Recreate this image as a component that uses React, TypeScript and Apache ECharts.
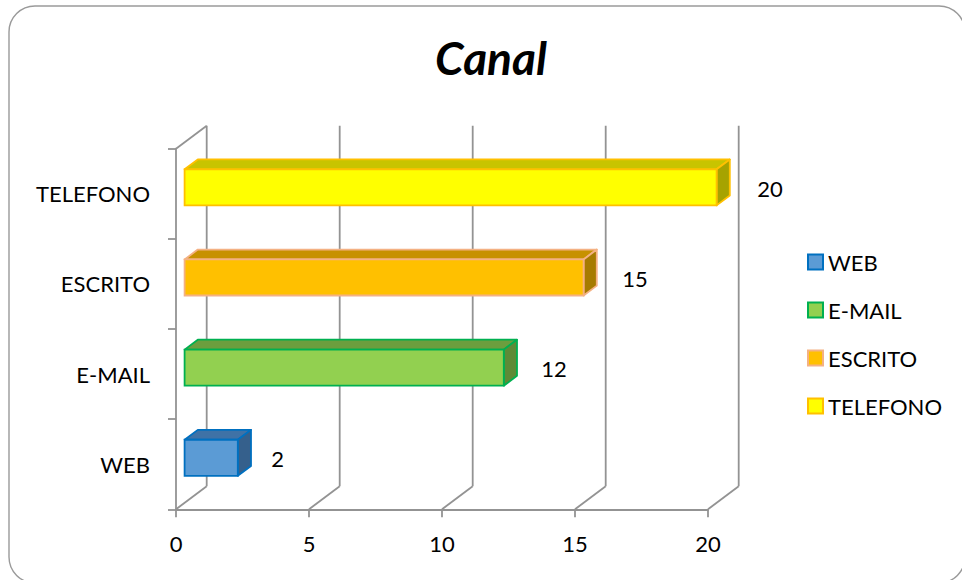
import React, { useEffect, useRef } from "react";
import * as echarts from "echarts";

const categories = ["WEB", "E-MAIL", "ESCRITO", "TELEFONO"];
const values = [2, 12, 15, 20];
const xTicks = [0, 5, 10, 15, 20];
const titleText = "Canal";

const fillColors = ["#5B9BD5", "#92D050", "#FFC000", "#FFFF00"];
const borderColors = ["#0070C0", "#00B050", "#F4B183", "#FFC000"];
const topColors = ["#3F72A6", "#6C9E3E", "#C79100", "#C8C400"];
const sideColors = ["#35608C", "#5E8A36", "#A67B00", "#A6A300"];

const DX = 30.7;
const DY = -23;
const F0 = 0.28;
const F1 = 0.71;
const GRID = "#939393";
const FONT = "Lato";
const FS = 22;

export default function App() {
  const ref = useRef<HTMLDivElement>(null);
  useEffect(() => {
    document.body.style.margin = "0";
    const chart = echarts.init(ref.current!, null, { renderer: "svg" });

    const wallSeries: any = {
      type: "custom",
      coordinateSystem: "cartesian2d",
      silent: true,
      z: 1,
      data: [[0, 0]],
      encode: { x: 0, y: 1 },
      renderItem: (params: any, api: any) => {
        const cs = params.coordSys;
        const top = cs.y;
        const bottom = cs.y + cs.height;
        const children: any[] = [];
        const ls = { stroke: GRID, lineWidth: 1.8 };
        xTicks.forEach((v) => {
          const x = api.coord([v, 0])[0];
          children.push({
            type: "line",
            shape: { x1: x, y1: bottom, x2: x + DX, y2: bottom + DY },
            style: ls,
          });
          children.push({
            type: "line",
            shape: { x1: x + DX, y1: bottom + DY, x2: x + DX, y2: top + DY },
            style: ls,
          });
        });
        const x0 = api.coord([xTicks[0], 0])[0];
        children.push({
          type: "line",
          shape: { x1: x0, y1: top, x2: x0 + DX, y2: top + DY },
          style: ls,
        });
        return { type: "group", children };
      },
    };

    const barSeries = categories.map((name, i) => ({
      type: "custom",
      name,
      coordinateSystem: "cartesian2d",
      z: 3,
      data: [[values[i], i]],
      encode: { x: 0, y: 1 },
      itemStyle: { color: fillColors[i], borderColor: borderColors[i], borderWidth: 2 },
      renderItem: (params: any, api: any) => {
        const val = api.value(0);
        const cat = api.value(1);
        const p0 = api.coord([0, cat]);
        const p1 = api.coord([val, cat]);
        const band = api.size([0, 1])[1];
        const h = band * 0.4;
        const fx0 = p0[0] + F0 * DX;
        const fx1 = p1[0] + F0 * DX;
        const fyT = p0[1] - h / 2 + F0 * DY;
        const fyB = fyT + h;
        const ddx = (F1 - F0) * DX;
        const ddy = (F1 - F0) * DY;
        const stroke = borderColors[i];
        const lw = 1.8;
        const gap = 19.5 + 0.4 * val;
        return {
          type: "group",
          children: [
            {
              type: "polygon",
              shape: {
                points: [
                  [fx0, fyT],
                  [fx1, fyT],
                  [fx1 + ddx, fyT + ddy],
                  [fx0 + ddx, fyT + ddy],
                ],
              },
              style: { fill: topColors[i], stroke, lineWidth: lw, lineJoin: "round" },
            },
            {
              type: "polygon",
              shape: {
                points: [
                  [fx1, fyT],
                  [fx1 + ddx, fyT + ddy],
                  [fx1 + ddx, fyB + ddy],
                  [fx1, fyB],
                ],
              },
              style: { fill: sideColors[i], stroke, lineWidth: lw, lineJoin: "round" },
            },
            {
              type: "rect",
              shape: { x: fx0, y: fyT, width: fx1 - fx0, height: h },
              style: { fill: fillColors[i], stroke, lineWidth: lw },
            },
            {
              type: "text",
              x: fx1 + ddx + gap,
              y: fyT + h / 2 + 1,
              style: {
                text: String(val),
                fontSize: FS,
                fontFamily: FONT,
                fill: "#000000",
                align: "left",
                verticalAlign: "middle",
                textAlign: "left",
                textVerticalAlign: "middle",
              },
            },
          ],
        };
      },
    }));

    const option: any = {
      animation: false,
      backgroundColor: "#ffffff",
      grid: { left: 176, right: 254, top: 148.7, bottom: 70.7, containLabel: false },
      graphic: [
        {
          type: "rect",
          z: -1,
          shape: { x: 9, y: 6, width: 956, height: 577, r: 26 },
          style: { fill: "#ffffff", stroke: "#9a9a9a", lineWidth: 1.4 },
          silent: true,
        },
        {
          type: "text",
          x: 491,
          y: 57,
          style: {
            text: titleText,
            fontSize: 46,
            fontWeight: "bold",
            fontStyle: "italic",
            fontFamily: FONT,
            fill: "#000000",
            align: "center",
            verticalAlign: "middle",
            textAlign: "center",
            textVerticalAlign: "middle",
          },
        },
      ],
      legend: {
        orient: "vertical",
        left: 807,
        top: 250,
        padding: 0,
        itemWidth: 15,
        itemHeight: 15,
        itemGap: 24,
        icon: "rect",
        textStyle: { fontSize: FS, fontFamily: FONT, color: "#000000", lineHeight: 24 },
        data: categories.map((name, i) => ({
          name,
          itemStyle: { color: fillColors[i], borderColor: borderColors[i], borderWidth: 2 },
        })),
      },
      xAxis: {
        type: "value",
        min: xTicks[0],
        max: xTicks[xTicks.length - 1],
        interval: xTicks[1] - xTicks[0],
        axisLine: { show: true, lineStyle: { color: GRID, width: 1.8 } },
        axisTick: { show: true, length: 8, lineStyle: { color: GRID, width: 1.8 } },
        axisLabel: { margin: 23, fontSize: FS, fontFamily: FONT, color: "#000000" },
        splitLine: { show: false },
      },
      yAxis: {
        type: "category",
        data: categories,
        axisLine: { show: true, lineStyle: { color: GRID, width: 1.8 } },
        axisTick: { show: true, length: 8, lineStyle: { color: GRID, width: 1.8 } },
        axisLabel: { margin: 26, fontSize: FS, fontFamily: FONT, color: "#000000" },
        splitLine: { show: false },
      },
      series: [wallSeries, ...barSeries],
    };
    chart.setOption(option);
    return () => chart.dispose();
  }, []);
  return <div ref={ref} style={{ width: 962, height: 580 }} />;
}
